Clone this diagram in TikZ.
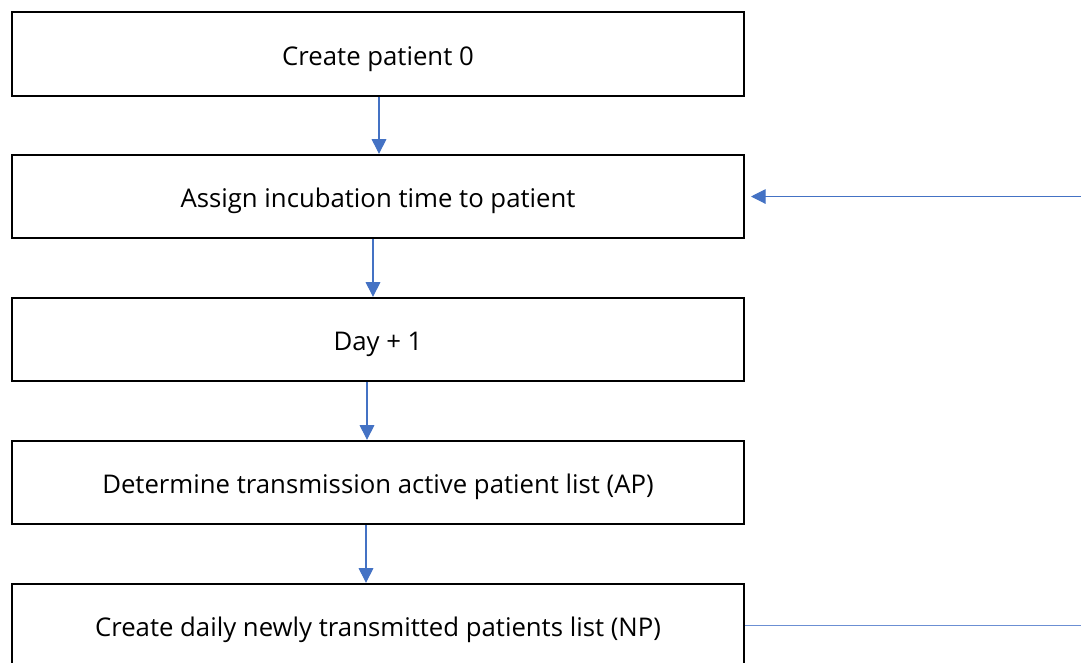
\documentclass[tikz,border=0pt]{standalone}
\usepackage{fontspec}
\setmainfont{Open Sans}
\usetikzlibrary{arrows.meta}
\definecolor{arrblue}{HTML}{4472C4}
\definecolor{lineblue}{HTML}{6B8FD3}
\newcommand{\boxtext}[1]{\raisebox{-8.25pt}[0pt][0pt]{#1}}
\tikzset{
  stepbox/.style={draw=black, line width=1.5pt, minimum width=549pt, minimum height=62.5pt, inner sep=0pt, font=\fontsize{19.3}{23}\selectfont},
  flow/.style={draw=arrblue, line width=0.8pt, -{Triangle[width=11pt,length=11pt]}},
  flowline/.style={draw=lineblue, line width=1.3pt}
}
\begin{document}
\begin{tikzpicture}[x=0.75pt,y=-0.75pt]
\useasboundingbox (0,0) rectangle (1081,662);
\clip (0,0) rectangle (1081,662);
\node[stepbox] (b1) at (378,54) {\boxtext{Create patient 0}};
\node[stepbox] (b2) at (378,196.5) {\boxtext{Assign incubation time to patient}};
\node[stepbox] (b3) at (378,339.5) {\boxtext{Day + 1}};
\node[stepbox] (b4) at (378,482.5) {\boxtext{Determine transmission active patient list (AP)}};
\node[stepbox] (b5) at (378,625.5) {\boxtext{Create daily newly transmitted patients list (NP)}};
\coordinate (in2) at (1081,196.5);
\coordinate (out5) at (1081,625.5);
\draw[flow] ([xshift=0.75pt]b1.south) -- ([xshift=0.75pt]b2.north);
\draw[flow] ([xshift=-3.75pt]b2.south) -- ([xshift=-3.75pt]b3.north);
\draw[flow] ([xshift=-8.25pt]b3.south) -- ([xshift=-8.25pt]b4.north);
\draw[flow] ([xshift=-9pt]b4.south) -- ([xshift=-9pt]b5.north);
\draw[flow] (in2) -- ([xshift=4.5pt]b2.east);
\draw[flowline] (b5.east) -- (out5);
\end{tikzpicture}
\end{document}
